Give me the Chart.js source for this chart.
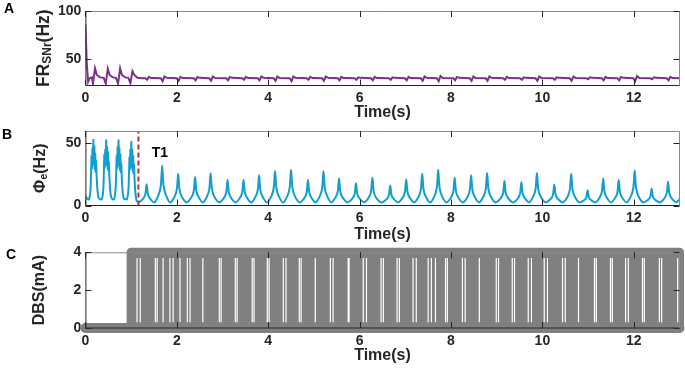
<!DOCTYPE html>
<html>
<head>
<meta charset="utf-8">
<script src="https://cdn.jsdelivr.net/npm/chart.js@4.4.1/dist/chart.umd.min.js"></script>
<style>
  body { margin: 0; background: #fff; }
  #wrap { position: relative; width: 685px; height: 369px; overflow: hidden; }
  canvas { position: absolute; left: 0; }
</style>
</head>
<body>
<div id="wrap">
  <canvas id="chartA" width="685" height="130" style="top:0px"></canvas>
  <canvas id="chartB" width="685" height="130" style="top:120px"></canvas>
  <canvas id="chartC" width="685" height="129" style="top:240px"></canvas>
</div>
<script>
// tick labels
const xTicks = [0, 2, 4, 6, 8, 10, 12]
const frTicks = [50, 100]
const phiTicks = [0, 50]
const dbsTicks = [0, 2, 4]

// A: SNr firing rate (Hz)
const tA = [0, 0.03, 0.06, 0.09, 0.14, 0.165, 0.21, 0.25, 0.32, 0.40, 0.445, 0.49, 0.53, 0.60, 0.67, 0.715, 0.76, 0.80, 0.87, 0.94, 0.985, 1.03, 1.07, 1.14, 1.24,
  1.31, 1.35, 1.39, 1.44, 1.65, 1.69, 1.73, 1.78, 2.00, 2.04, 2.08, 2.13, 2.37, 2.41, 2.45, 2.50,
  2.71, 2.75, 2.79, 2.84, 3.08, 3.12, 3.16, 3.21, 3.43, 3.47, 3.51, 3.56, 3.77, 3.81, 3.85, 3.90,
  4.12, 4.16, 4.20, 4.25, 4.47, 4.51, 4.55, 4.60, 4.84, 4.88, 4.92, 4.97, 5.18, 5.22, 5.26, 5.31,
  5.52, 5.56, 5.60, 5.65, 5.89, 5.93, 5.97, 6.02, 6.25, 6.29, 6.33, 6.38, 6.64, 6.68, 6.72, 6.77,
  6.99, 7.03, 7.07, 7.12, 7.34, 7.38, 7.42, 7.47, 7.69, 7.73, 7.77, 7.82, 8.05, 8.09, 8.13, 8.18,
  8.41, 8.45, 8.49, 8.54, 8.76, 8.80, 8.84, 8.89, 9.14, 9.18, 9.22, 9.27, 9.51, 9.55, 9.59, 9.64,
  9.85, 9.89, 9.93, 9.98, 10.23, 10.27, 10.31, 10.36, 10.60, 10.64, 10.68, 10.73, 10.96, 11.00, 11.04, 11.09,
  11.30, 11.34, 11.38, 11.43, 11.64, 11.68, 11.72, 11.77, 11.99, 12.03, 12.07, 12.12, 12.36, 12.40, 12.44, 12.49,
  12.72, 12.76, 12.80, 12.85, 13.0]
const frA = [86, 45, 26, 29.5, 30.5, 24, 40, 33, 30.5, 30, 24, 39.5, 33, 30.5, 30, 24, 40, 33, 30.5, 30, 24.5, 37, 33, 30, 29.5,
  29.5, 28, 31, 29.8, 29.5, 26.5, 31.5, 30, 29.5, 27, 31, 29.8, 29.5, 27.5, 31, 30,
  29.5, 27, 31.5, 29.8, 29.5, 27.5, 31, 30, 29.5, 28, 31, 29.8, 29.5, 27.5, 31.5, 30,
  29.5, 27, 31.5, 29.8, 29.5, 26.5, 31.5, 30, 29.5, 28, 31, 29.8, 29.5, 27, 31.5, 30,
  29.5, 27.5, 31, 29.8, 29.5, 28, 30.5, 30, 29.5, 27.5, 31, 29.8, 29.5, 28, 30.5, 30,
  29.5, 27.5, 31, 29.8, 29.5, 27, 31.5, 30, 29.5, 26.5, 32, 29.8, 29.5, 27.5, 31, 30,
  29.5, 27, 31.5, 29.8, 29.5, 27, 31.5, 30, 29.5, 28, 31, 29.8, 29.5, 28, 30.5, 30,
  29.5, 27, 31.5, 29.8, 29.5, 28, 30.5, 30, 29.5, 27, 31.5, 29.8, 29.5, 28.5, 30.5, 30,
  29.5, 27.5, 31, 29.8, 29.5, 27.5, 31, 30, 29.5, 26.5, 32, 29.8, 29.5, 28.5, 30.5, 30,
  29.5, 27.5, 31, 29.8, 29.5]

// B: cortical activity Phi_e (Hz)
const tB = [0, 0.04,
  0.08, 0.11, 0.125, 0.135, 0.145, 0.155, 0.165, 0.175, 0.185, 0.195, 0.205, 0.215, 0.225, 0.235, 0.245, 0.265, 0.29, 0.33,
  0.36, 0.39, 0.405, 0.415, 0.425, 0.435, 0.445, 0.455, 0.465, 0.475, 0.485, 0.495, 0.505, 0.515, 0.525, 0.545, 0.57, 0.60,
  0.63, 0.66, 0.675, 0.685, 0.695, 0.705, 0.715, 0.725, 0.735, 0.745, 0.755, 0.765, 0.775, 0.785, 0.795, 0.815, 0.84, 0.88,
  0.91, 0.94, 0.955, 0.965, 0.975, 0.985, 0.995, 1.005, 1.015, 1.025, 1.035, 1.045, 1.055, 1.065, 1.075, 1.095, 1.12, 1.17,
  1.26, 1.31, 1.34, 1.37, 1.42, 1.51, 1.60, 1.65, 1.68, 1.71, 1.76, 1.855, 1.95, 2.00, 2.03, 2.06, 2.11, 2.215,
  2.32, 2.37, 2.40, 2.43, 2.48, 2.57, 2.66, 2.71, 2.74, 2.77, 2.82, 2.925, 3.03, 3.08, 3.11, 3.14, 3.19, 3.285,
  3.38, 3.43, 3.46, 3.49, 3.54, 3.63, 3.72, 3.77, 3.80, 3.83, 3.88, 3.975, 4.07, 4.12, 4.15, 4.18, 4.23, 4.325,
  4.42, 4.47, 4.50, 4.53, 4.58, 4.685, 4.79, 4.84, 4.87, 4.90, 4.95, 5.04, 5.13, 5.18, 5.21, 5.24, 5.29, 5.38,
  5.47, 5.52, 5.55, 5.58, 5.63, 5.735, 5.84, 5.89, 5.92, 5.95, 6.00, 6.10, 6.20, 6.25, 6.28, 6.31, 6.36, 6.475,
  6.59, 6.64, 6.67, 6.70, 6.75, 6.845, 6.94, 6.99, 7.02, 7.05, 7.10, 7.195, 7.29, 7.34, 7.37, 7.40, 7.45, 7.545,
  7.64, 7.69, 7.72, 7.75, 7.80, 7.90, 8.00, 8.05, 8.08, 8.11, 8.16, 8.26, 8.36, 8.41, 8.44, 8.47, 8.52, 8.615,
  8.71, 8.76, 8.79, 8.82, 8.87, 8.98, 9.09, 9.14, 9.17, 9.20, 9.25, 9.355, 9.46, 9.51, 9.54, 9.57, 9.62, 9.71,
  9.80, 9.85, 9.88, 9.91, 9.96, 10.07, 10.18, 10.23, 10.26, 10.29, 10.34, 10.445, 10.55, 10.60, 10.63, 10.66, 10.71, 10.81,
  10.91, 10.96, 10.99, 11.02, 11.07, 11.16, 11.25, 11.30, 11.33, 11.36, 11.41, 11.50, 11.59, 11.64, 11.67, 11.70, 11.75, 11.845,
  11.94, 11.99, 12.02, 12.05, 12.10, 12.205, 12.31, 12.36, 12.39, 12.42, 12.47, 12.57, 12.67, 12.72, 12.75, 12.78, 12.83, 12.93, 13.0]
const phiB = [7.5, 5.5,
  5, 12, 28, 40, 30, 46, 34, 53, 33, 48, 29, 42, 27, 36, 24, 12, 6, 5,
  5, 12, 28, 41, 31, 45, 33, 52.6, 34, 47, 30, 43, 28, 35, 23, 11, 6, 5,
  5, 13, 29, 40, 30, 47, 35, 52.6, 32, 46, 29, 41, 27, 34, 23, 11, 5.5, 5,
  5, 12, 27, 39, 29, 45, 33, 51.3, 31, 45, 28, 40, 26, 33, 22, 10, 4, 2.5,
  5.3, 8.6, 17.2, 8.6, 5.3, 2.5, 8.5, 16, 32, 16, 8.5, 2.5, 7.1, 12.8, 25.6, 12.8, 7.1, 2.5,
  6.6, 11.5, 23, 11.5, 6.6, 2.5, 7.2, 13, 26, 13, 7.2, 2.5, 6, 10.3, 20.5, 10.3, 6, 2.5,
  6, 10.3, 20.5, 10.3, 6, 2.5, 6.9, 12.2, 24.4, 12.2, 6.9, 2.5, 7.6, 13.9, 27.7, 13.9, 7.6, 2.5,
  7.8, 14.4, 28.7, 14.4, 7.8, 2.5, 6, 10.3, 20.5, 10.3, 6, 2.5, 7.6, 13.8, 27.5, 13.8, 7.6, 2.5,
  6.3, 10.9, 21.8, 10.9, 6.3, 2.5, 5.5, 9, 18, 9, 5.5, 2.5, 6.4, 11.2, 22.3, 11.2, 6.4, 2.5,
  5.1, 8.1, 16.2, 8.1, 5.1, 2.5, 6.1, 10.5, 21, 10.5, 6.1, 2.5, 7.1, 12.8, 25.6, 12.8, 7.1, 2.5,
  7.8, 14.4, 28.7, 14.4, 7.8, 2.5, 6.4, 11.2, 22.3, 11.2, 6.4, 2.5, 6.9, 12.2, 24.4, 12.2, 6.9, 2.5,
  7.3, 13.1, 26.2, 13.1, 7.3, 2.5, 5.9, 9.9, 19.8, 9.9, 5.9, 2.5, 5.6, 9.4, 18.7, 9.4, 5.6, 2.5,
  7.3, 13.1, 26.2, 13.1, 7.3, 2.5, 5.2, 8.4, 16.7, 8.4, 5.2, 2.5, 7.1, 12.8, 25.6, 12.8, 7.1, 2.5,
  4.2, 6.2, 12.3, 6.2, 4.2, 2.5, 6.3, 10.9, 21.8, 10.9, 6.3, 2.5, 6, 10.3, 20.5, 10.3, 6, 2.5,
  7.7, 14.1, 28.2, 14.1, 7.7, 2.5, 4.5, 6.8, 13.6, 6.8, 4.5, 2.5, 5.7, 9.6, 19.2, 9.6, 5.7, 2.6, 5]
const t1 = 1.16

// C: DBS current (mA), on from ~1 s; times where pulses were skipped
const dbsT = [0, 1.0, 1.0, 13, 13]
const dbsAmp = [0, 0, 4, 4, 0]
const gapT = [1.13, 1.20, 1.53, 1.57, 1.70, 1.85, 1.92, 2.07, 2.23, 2.29, 2.57, 2.93, 2.97, 3.28, 3.32, 3.65, 3.69,
  3.98, 4.02, 4.33, 4.39, 4.68, 4.72, 5.03, 5.36, 5.42, 5.75, 5.77, 6.08, 6.15, 6.47, 6.52, 6.82, 6.87,
  7.17, 7.24, 7.50, 7.57, 7.66, 7.88, 7.92, 8.25, 8.31, 8.62, 8.99, 9.04, 9.34, 9.39, 9.69, 9.76,
  10.04, 10.11, 10.44, 10.50, 10.79, 11.14, 11.18, 11.49, 11.53, 11.82, 11.88, 12.19, 12.23, 12.56, 12.61, 12.96]

const fam = "'Liberation Sans', Arial, sans-serif"
const ink = '#262626'
const gray = '#808080'
Chart.defaults.font.family = fam

function pts(xs, ys) {
  return xs.map((x, i) => ({ x: x, y: ys[i] }))
}

let gapPts = []
gapT.forEach((t) => {
  gapPts.push({ x: t, y: 0.3 }, { x: t, y: 3.7 }, { x: t, y: null })
})

// matlab style box with inward ticks
const axesBox = {
  id: 'axesBox',
  afterDatasetsDraw(chart) {
    const { ctx, chartArea: a, scales } = chart
    ctx.save()
    ctx.lineWidth = 1
    ctx.strokeStyle = '#8a8a8a'
    ctx.beginPath()
    ctx.moveTo(a.left, a.top + 0.5)
    ctx.lineTo(a.right, a.top + 0.5)
    ctx.lineTo(a.right, a.bottom)
    ctx.stroke()
    ctx.strokeStyle = ink
    ctx.beginPath()
    ctx.moveTo(a.left + 0.5, a.top)
    ctx.lineTo(a.left + 0.5, a.bottom)
    ctx.lineTo(a.right, a.bottom)
    scales.x.ticks.forEach((t) => {
      const p = Math.round(scales.x.getPixelForValue(t.value)) + 0.5
      ctx.moveTo(p, a.bottom)
      ctx.lineTo(p, a.bottom - 6)
      ctx.moveTo(p, a.top)
      ctx.lineTo(p, a.top + 6)
    })
    scales.y.ticks.forEach((t) => {
      const p = Math.round(scales.y.getPixelForValue(t.value)) + 0.5
      ctx.moveTo(a.left, p)
      ctx.lineTo(a.left + 6, p)
      ctx.moveTo(a.right, p)
      ctx.lineTo(a.right - 6, p)
    })
    ctx.stroke()
    ctx.restore()
  },
}

// panel letter, rotated y title with subscript, notes
function panelText(cfg) {
  return {
    id: 'panelText',
    afterDraw(chart) {
      const { ctx, chartArea: a } = chart
      ctx.save()
      ctx.fillStyle = '#000'
      ctx.font = 'bold 14px ' + fam
      ctx.fillText(cfg.letter, cfg.letterX, cfg.letterY)
      if (cfg.note) {
        ctx.fillText(cfg.note, chart.scales.x.getPixelForValue(t1) + 13.4, cfg.noteY)
      }
      let total = 0
      cfg.title.forEach((p) => {
        ctx.font = 'bold ' + p.size + 'px ' + fam
        total += ctx.measureText(p.text).width
      })
      ctx.fillStyle = ink
      ctx.translate(cfg.titleX, (a.top + a.bottom) / 2)
      ctx.rotate(-Math.PI / 2)
      let pos = -total / 2
      cfg.title.forEach((p) => {
        ctx.font = 'bold ' + p.size + 'px ' + fam
        ctx.fillText(p.text, pos, p.shift || 0)
        pos += ctx.measureText(p.text).width
      })
      ctx.restore()
    },
  }
}

function makeChart(id, cfg) {
  return new Chart(document.getElementById(id), {
    type: 'line',
    data: { datasets: cfg.datasets },
    options: {
      responsive: false,
      animation: false,
      events: [],
      layout: { padding: { top: cfg.top, right: 5.5, left: 0, bottom: 0 } },
      elements: { point: { radius: 0 }, line: { tension: 0 } },
      plugins: { legend: { display: false }, tooltip: { enabled: false } },
      scales: {
        x: {
          type: 'linear',
          min: 0,
          max: 13,
          grid: { display: false, drawTicks: false },
          border: { display: false },
          afterBuildTicks: (s) => {
            s.ticks = xTicks.map((v) => ({ value: v }))
          },
          afterFit: (s) => {
            s.height = cfg.xHeight
          },
          ticks: {
            color: ink,
            padding: 6,
            maxRotation: 0,
            autoSkip: false,
            font: { size: 14, weight: 'bold', lineHeight: 1 },
          },
          title: {
            display: true,
            text: 'Time(s)',
            color: ink,
            font: { size: 16, weight: 'bold' },
            padding: { top: 0, bottom: cfg.titlePad },
          },
        },
        y: {
          min: cfg.yMin,
          max: cfg.yMax,
          grid: { display: false, drawTicks: false },
          border: { display: false },
          afterBuildTicks: (s) => {
            s.ticks = cfg.yTicks.map((v) => ({ value: v }))
          },
          afterFit: (s) => {
            s.width = 85.4
          },
          ticks: {
            color: ink,
            padding: 4,
            font: { size: 14, weight: 'bold', lineHeight: 1 },
          },
        },
      },
    },
    plugins: [axesBox, panelText(cfg)],
  })
}

makeChart('chartA', {
  top: 8,
  xHeight: 44.5,
  titlePad: 7.5,
  yMin: 22,
  yMax: 100,
  yTicks: frTicks,
  letter: 'A',
  letterX: 4,
  letterY: 12.5,
  titleX: 49,
  title: [
    { text: 'FR', size: 17.5 },
    { text: 'SNr', size: 12, shift: 1.5 },
    { text: '(Hz)', size: 17.5 },
  ],
  datasets: [
    { data: pts(tA, frA), borderColor: '#7E2F8E', borderWidth: 2 },
  ],
})

makeChart('chartB', {
  top: 10,
  xHeight: 44.5,
  titlePad: 6,
  yMin: 0,
  yMax: 60,
  yTicks: phiTicks,
  letter: 'B',
  letterX: 2,
  letterY: 18.5,
  note: 'T1',
  noteY: 36.7,
  titleX: 45,
  title: [
    { text: 'Φ', size: 16 },
    { text: 'e', size: 11, shift: 1.5 },
    { text: '(Hz)', size: 16 },
  ],
  datasets: [
    {
      data: pts([t1, t1], [0, 60]),
      borderColor: '#c0302e',
      borderWidth: 2,
      borderDash: [5, 3],
    },
    { data: pts(tB, phiB), borderColor: '#0f9fd3', borderWidth: 2, tension: 0.3 },
  ],
})

makeChart('chartC', {
  top: 12.3,
  xHeight: 41,
  titlePad: 4,
  yMin: 0,
  yMax: 4,
  yTicks: dbsTicks,
  letter: 'C',
  letterX: 6,
  letterY: 19,
  titleX: 43.5,
  title: [{ text: 'DBS(mA)', size: 16 }],
  datasets: [
    { data: gapPts, borderColor: '#ffffff', borderWidth: 1.2, spanGaps: false },
    {
      data: pts(dbsT, dbsAmp),
      borderColor: gray,
      backgroundColor: gray,
      borderWidth: 9,
      fill: 'origin',
      borderCapStyle: 'round',
      borderJoinStyle: 'round',
      clip: false,
    },
    {
      data: pts([0, 13], [0, 0]),
      borderColor: gray,
      borderWidth: 10,
      borderCapStyle: 'round',
      clip: false,
    },
  ],
})
</script>
</body>
</html>
